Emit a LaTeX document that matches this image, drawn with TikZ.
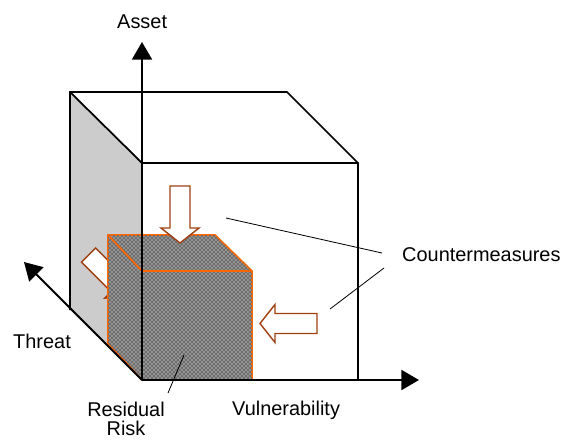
\documentclass[tikz,border=0pt]{standalone}
\usepackage{fontspec}
\setmainfont{Liberation Sans}
\usetikzlibrary{arrows.meta}
\usetikzlibrary{patterns}

\definecolor{cmbrown}{RGB}{160,64,16}
\definecolor{rrorange}{RGB}{255,102,0}
\definecolor{panelgray}{RGB}{204,204,204}
\definecolor{rrlight}{RGB}{150,150,150}
\definecolor{rrdark}{RGB}{110,110,110}

\pgfdeclarepatternformonly{finechecker}{\pgfpointorigin}{\pgfqpoint{3.4pt}{3.4pt}}{\pgfqpoint{3.4pt}{3.4pt}}{
  \pgfpathrectangle{\pgfpointorigin}{\pgfqpoint{1.7pt}{1.7pt}}
  \pgfpathrectangle{\pgfqpoint{1.7pt}{1.7pt}}{\pgfqpoint{1.7pt}{1.7pt}}
  \pgfusepath{fill}}

\tikzset{
  cubeline/.style={black, line width=1.5pt, line join=miter},
  axisline/.style={black, line width=1.8pt, -{Triangle[length=15pt,width=17pt]}},
  callout/.style={black, line width=0.7pt},
  lbl/.style={font=\fontsize{17}{16}\selectfont, inner sep=0pt},
  cmarrow/.pic={\draw[cmbrown, line width=1.2pt, fill=white, line join=miter]
    (0,-10)--(42,-10)--(42,-19)--(57,0)--(42,19)--(42,10)--(0,10)--cycle;}
}

\begin{document}
\begin{tikzpicture}[x=0.03cm, y=-0.03cm]
\useasboundingbox (0,0) rectangle (563,442);

% big cube, back side
\fill[panelgray] (70,92)--(142,163)--(142,380)--(70,310)--cycle;
\draw[cubeline] (70,310)--(70,92)--(287,92)--(358,163)--(358,380);
\draw[cubeline] (70,92)--(142,163)--(358,163);

% countermeasure from the threat side (mostly hidden)
\pic[rotate=-45] at (88.5,255) {cmarrow};

% residual risk cube
\filldraw[rrorange, line width=1.5pt, fill=rrlight, line join=miter,
  postaction={pattern=finechecker, pattern color=rrdark}]
  (108,235)--(215,235)--(252,271)--(252,380)--(142,380)--(108,343)--cycle;
\draw[rrorange, line width=1.5pt] (108,235)--(142,271)--(252,271) (142,271)--(142,380);

% axes
\coordinate (O) at (142,380);
\coordinate (assettip) at (142,42);
\coordinate (vulntip) at (419,380);
\coordinate (threattip) at (24,262);
\draw[axisline] (O)--(assettip);
\draw[axisline] (O)--(vulntip);
\draw[axisline] (O)--(threattip);

% countermeasures
\pic[rotate=-90] at (180,186) {cmarrow};
\pic[rotate=180] at (317,323.5) {cmarrow};

% labels
\node[lbl, anchor=base west] (asset) at (117,28) {Asset};
\node[lbl, anchor=base west] (threat) at (13,348) {Threat};
\node[lbl, anchor=base west] (vuln) at (232,415) {Vulnerability};
\node[lbl, anchor=base west] (cm) at (402,261) {Countermeasures};
\node[lbl, align=center, anchor=north] (rr) at (126,402) {Residual\\Risk};

% callouts
\coordinate (cmA) at (382,253);
\coordinate (cmB) at (384,268);
\coordinate (cmtop) at (226,218);
\coordinate (cmside) at (330,309);
\coordinate (rrA) at (168,393);
\coordinate (rrB) at (184,355);
\draw[callout] (cmA)--(cmtop);
\draw[callout] (cmB)--(cmside);
\draw[callout] (rrA)--(rrB);
\end{tikzpicture}
\end{document}
